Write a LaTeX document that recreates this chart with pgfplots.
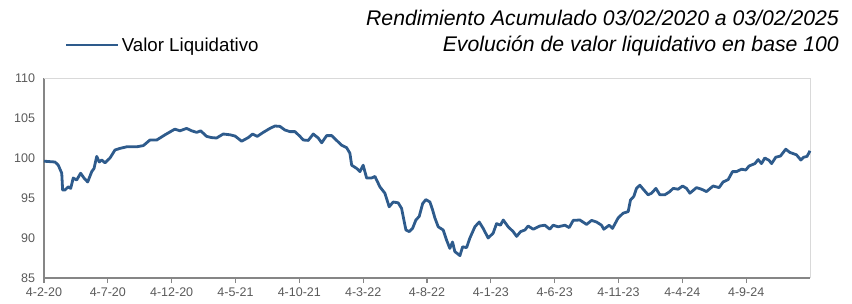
\documentclass[border=0pt]{standalone}
\usepackage{pgfplots}
\pgfplotsset{compat=1.18}
\usepackage{pgfplotstable}
\usepackage{fontspec}
\setmainfont{Liberation Sans}
\definecolor{lineblue}{RGB}{46,91,140}
\definecolor{ticktext}{RGB}{89,89,89}
\definecolor{spine}{RGB}{134,134,134}
\definecolor{frame}{RGB}{217,217,217}
\pgfplotstableread{
m v
0 99.6
0.86 99.5
1.12 99.1
1.39 98.1
1.46 96.0
1.64 96.0
1.90 96.4
2.09 96.2
2.29 97.5
2.56 97.25
2.87 98.1
3.13 97.5
3.42 97.0
3.74 98.3
3.92 98.7
4.13 100.2
4.33 99.5
4.52 99.75
4.78 99.4
5.17 100.0
5.56 101.0
5.95 101.2
6.48 101.4
6.87 101.4
7.26 101.4
7.78 101.55
8.30 102.25
8.83 102.25
9.48 102.9
10.13 103.5
10.26 103.6
10.65 103.4
11.17 103.7
11.57 103.4
11.96 103.2
12.27 103.4
12.74 102.7
13.13 102.55
13.52 102.5
14.04 103.0
14.57 102.9
14.96 102.75
15.48 102.1
16.00 102.55
16.34 103.0
16.70 102.7
17.17 103.2
17.70 103.7
18.09 104.0
18.48 103.95
18.87 103.5
19.26 103.3
19.66 103.3
20.05 102.7
20.31 102.25
20.70 102.2
21.09 103.0
21.48 102.5
21.75 101.9
22.14 102.8
22.53 102.8
22.92 102.2
23.31 101.6
23.70 101.3
23.96 100.6
24.10 99.1
24.49 98.7
24.75 98.3
25.00 99.1
25.27 97.5
25.66 97.5
25.92 97.7
26.31 96.4
26.70 95.6
27.04 93.9
27.35 94.5
27.74 94.4
28.01 93.7
28.19 92.25
28.35 91.0
28.61 90.8
28.87 91.2
29.13 92.25
29.39 92.7
29.66 94.3
29.91 94.8
30.23 94.5
30.44 93.5
30.62 92.5
30.88 91.4
31.27 91.0
31.53 89.75
31.79 88.7
32.00 89.5
32.18 88.3
32.58 87.8
32.79 88.9
33.10 88.8
33.36 90.0
33.75 91.4
34.09 92.0
34.40 91.2
34.79 90.0
35.18 90.6
35.45 91.8
35.76 91.6
35.97 92.25
36.36 91.4
36.75 90.8
37.02 90.2
37.33 90.8
37.67 91.0
37.92 91.5
38.32 91.1
38.84 91.5
39.23 91.6
39.62 91.1
39.88 91.6
40.27 91.4
40.80 91.6
41.14 91.3
41.45 92.2
41.97 92.25
42.50 91.7
42.89 92.2
43.28 92.0
43.67 91.6
43.85 91.1
44.27 91.6
44.53 91.2
44.97 92.5
45.36 93.1
45.76 93.3
45.94 94.75
46.20 95.2
46.41 96.2
46.67 96.6
46.99 96.0
47.32 95.4
47.59 95.6
47.93 96.2
48.24 95.4
48.63 95.4
49.02 95.8
49.28 96.2
49.67 96.1
50.02 96.5
50.33 96.2
50.59 95.6
51.11 96.3
51.50 96.1
51.89 95.8
52.41 96.5
52.88 96.3
53.19 97.0
53.59 97.3
53.93 98.3
54.24 98.3
54.64 98.6
54.97 98.5
55.23 99.0
55.68 99.3
55.94 99.8
56.20 99.3
56.46 100.0
56.80 99.7
56.99 99.3
57.32 100.1
57.69 100.25
58.10 101.1
58.42 100.7
58.94 100.4
59.28 99.75
59.51 100.1
59.77 100.2
60.00 100.9
}\vl
\begin{document}
\begin{tikzpicture}[x=1pt,y=1pt]
\useasboundingbox (0,0) rectangle (852,303);
\node[anchor=base east,font=\fontsize{21.2}{25}\selectfont\itshape,inner sep=0pt] at (839,277) {Rendimiento Acumulado 03/02/2020 a 03/02/2025};
\node[anchor=base east,font=\fontsize{21.2}{25}\selectfont\itshape,inner sep=0pt] at (839,251) {Evolución de valor liquidativo en base 100};
\begin{axis}[
  at={(44pt,25pt)}, anchor=south west,
  scale only axis, width=766pt, height=200pt,
  xmin=0, xmax=60, ymin=85, ymax=110,
  axis lines=left,
  axis line style={-, draw=spine, line width=1.2pt},
  xtick={0,5,...,55},
  xticklabels={4-2-20,4-7-20,4-12-20,4-5-21,4-10-21,4-3-22,4-8-22,4-1-23,4-6-23,4-11-23,4-4-24,4-9-24},
  ytick={85,90,...,110},
  xtick align=outside,
  major tick length=5pt,
  xtick style={draw=spine, line width=1.2pt},
  ytick style={draw=none},
  tick label style={font=\fontsize{12.5}{14}\selectfont, text=ticktext},
  /pgf/number format/assume math mode=true,
  yticklabel style={xshift=-3pt},
  xticklabel style={yshift=-1pt},
  legend style={at={(axis description cs:0.0274,1.165)}, anchor=west, draw=none, fill=none,
    font=\fontsize{18.7}{22}\selectfont, inner sep=0pt, outer sep=0pt},
  legend cell align=left,
  legend image code/.code={\draw[#1] (0pt,0pt) -- (52pt,0pt);},
  clip=false,
]
\draw[frame, line width=1pt] (rel axis cs:0,1) -- (rel axis cs:1,1) -- (rel axis cs:1,0);
\addplot[lineblue, line width=2.8pt, line join=round] table[x=m,y=v] {\vl};
\addlegendentry{Valor Liquidativo}
\end{axis}
\end{tikzpicture}
\end{document}
